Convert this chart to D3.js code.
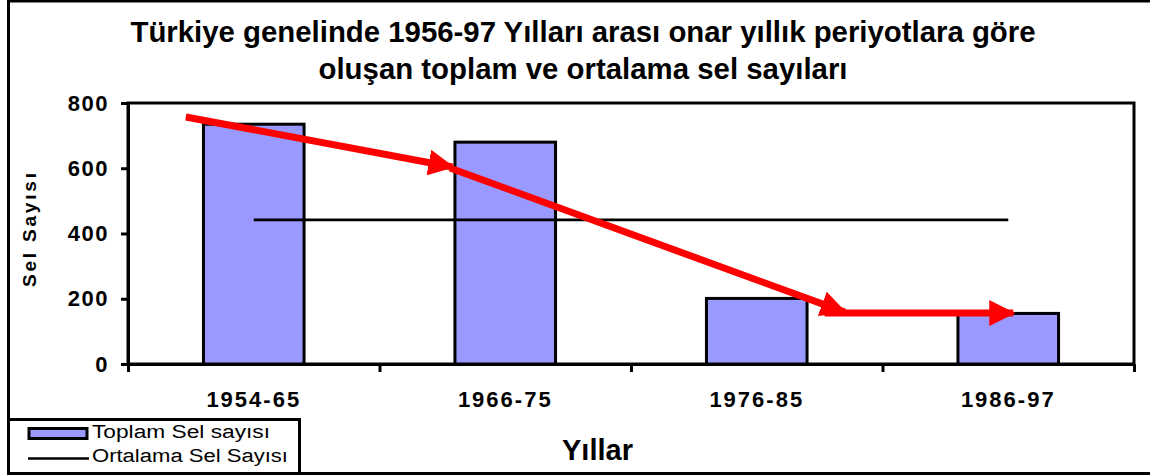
<!DOCTYPE html>
<html>
<head>
<meta charset="utf-8">
<script src="https://cdn.jsdelivr.net/npm/d3@7"></script>
<style>
  body { margin: 0; background: #fff; }
  svg { display: block; font-family: "Liberation Sans", Arial, sans-serif; }
</style>
</head>
<body>
<div id="chart"></div>
<script>
// data
const categories = ["1954-65", "1966-75", "1976-85", "1986-97"]
const toplamSel = [735, 680, 201, 155]
const ortalamaSel = [442, 442, 442, 442]
const yTicks = [0, 200, 400, 600, 800]
// red trend arrows: [category position, value]
const arrowFrom = [[0.23, 757], [1.28, 601], [2.77, 156]]
const arrowTo = [[1.29, 604], [2.85, 159], [3.52, 156]]
const legendLabels = ["Toplam Sel sayısı", "Ortalama Sel Sayısı"]
const titleLines = ["Türkiye genelinde 1956-97 Yılları arası onar yıllık periyotlara göre",
  "oluşan toplam ve ortalama sel sayıları"]

const W = 1150, H = 475
const margins = { top: 103, right: 16, bottom: 111, left: 128 }
const anc = W - margins.left - margins.right
const alt = H - margins.top - margins.bottom

const svg = d3.select("#chart").append("svg")
  .attr("width", W)
  .attr("height", H)

svg.append("defs").append("marker")
  .attr("id", "head")
  .attr("markerUnits", "userSpaceOnUse")
  .attr("viewBox", "0 0 26 26")
  .attr("refX", 24).attr("refY", 13)
  .attr("markerWidth", 26).attr("markerHeight", 26)
  .attr("orient", "auto")
  .append("path")
  .attr("d", "M0,0 L26,13 L0,26 Z")
  .attr("fill", "#ff0000")

// outer frame
svg.append("rect")
  .attr("x", 8.5).attr("y", 1)
  .attr("width", W + 20).attr("height", 472.5)
  .attr("fill", "none").attr("stroke", "#000").attr("stroke-width", 3)

const g = svg.append("g")
  .attr("transform", "translate(" + margins.left + "," + margins.top + ")")

const x = d3.scaleBand()
  .domain(categories)
  .range([0, anc])
  .paddingInner(0.6)
  .paddingOuter(0.3)

const xPos = d3.scaleLinear().domain([0, categories.length]).range([0, anc])

const y = d3.scaleLinear().domain([0, 800]).range([alt, 0])

// plot area border
g.append("rect")
  .attr("width", anc).attr("height", alt)
  .attr("fill", "none").attr("stroke", "#000").attr("stroke-width", 3)

// bars
g.selectAll(".bar")
  .data(toplamSel)
  .enter().append("rect")
  .attr("x", (d, i) => x(categories[i]))
  .attr("y", d => y(d))
  .attr("width", x.bandwidth())
  .attr("height", d => alt - y(d))
  .attr("fill", "#9999ff")
  .attr("stroke", "#000")
  .attr("stroke-width", 3)

// average line
g.append("path")
  .datum(ortalamaSel)
  .attr("fill", "none")
  .attr("stroke", "#000")
  .attr("stroke-width", 2.7)
  .attr("d", d3.line()
    .x((d, i) => x(categories[i]) + x.bandwidth() / 2)
    .y(d => y(d)))

// y axis
const yAxis = g.append("g")
  .call(d3.axisLeft(y).tickValues(yTicks).tickSizeInner(7).tickSizeOuter(0).tickPadding(12))
yAxis.select(".domain").attr("stroke-width", 3)
yAxis.selectAll(".tick line").attr("stroke-width", 3)
yAxis.selectAll("text")
  .attr("font-size", 22).attr("font-weight", "bold")
  .attr("letter-spacing", "1.5px")
  .attr("font-family", "'Liberation Sans', Arial, sans-serif")

// x axis: ticks on category boundaries, labels in the middle
const xTicks = g.append("g")
  .attr("transform", "translate(0," + alt + ")")
  .call(d3.axisBottom(xPos).tickValues(d3.range(categories.length + 1)).tickFormat("").tickSizeInner(8).tickSizeOuter(0))
xTicks.select(".domain").attr("stroke-width", 3)
xTicks.selectAll(".tick line").attr("stroke-width", 3)

const xLabels = g.append("g")
  .attr("transform", "translate(0," + alt + ")")
  .call(d3.axisBottom(x).tickSize(0).tickPadding(27))
xLabels.select(".domain").remove()
xLabels.selectAll("text")
  .attr("font-size", 22).attr("font-weight", "bold")
  .attr("letter-spacing", "2px")
  .attr("font-family", "'Liberation Sans', Arial, sans-serif")

// red trend arrows
g.selectAll(".arrow")
  .data(arrowFrom)
  .enter().append("line")
  .attr("x1", d => xPos(d[0])).attr("y1", d => y(d[1]))
  .attr("x2", (d, i) => xPos(arrowTo[i][0])).attr("y2", (d, i) => y(arrowTo[i][1]))
  .attr("stroke", "#ff0000")
  .attr("stroke-width", 7)
  .attr("marker-end", "url(#head)")

// title
svg.selectAll(".titulo")
  .data(titleLines)
  .enter().append("text")
  .attr("x", 583)
  .attr("y", (d, i) => 42 + i * 37)
  .attr("text-anchor", "middle")
  .attr("font-size", 29).attr("font-weight", "bold")
  .attr("textLength", (d, i) => i === 0 ? 905 : 529)
  .attr("lengthAdjust", "spacingAndGlyphs")
  .text(d => d)

// axis titles
svg.append("text")
  .attr("transform", "translate(36,230) rotate(-90)")
  .attr("text-anchor", "middle")
  .attr("font-size", 19).attr("font-weight", "bold")
  .attr("textLength", 114)
  .attr("lengthAdjust", "spacing")
  .text("Sel Sayısı")

svg.append("text")
  .attr("x", 562).attr("y", 460)
  .attr("font-size", 29).attr("font-weight", "bold")
  .text("Yıllar")

// legend
svg.append("rect")
  .attr("x", 8.5).attr("y", 419.5)
  .attr("width", 291).attr("height", 54)
  .attr("fill", "none").attr("stroke", "#000").attr("stroke-width", 3)

svg.append("rect")
  .attr("x", 29).attr("y", 428.5)
  .attr("width", 58).attr("height", 10)
  .attr("fill", "#9999ff").attr("stroke", "#000").attr("stroke-width", 3)

svg.append("line")
  .attr("x1", 28).attr("x2", 89)
  .attr("y1", 458.5).attr("y2", 458.5)
  .attr("stroke", "#000").attr("stroke-width", 2.7)

svg.selectAll(".leg")
  .data(legendLabels)
  .enter().append("text")
  .attr("x", 92)
  .attr("y", (d, i) => 438 + i * 24)
  .attr("font-size", 18)
  .attr("textLength", (d, i) => i === 0 ? 178 : 196)
  .attr("lengthAdjust", "spacingAndGlyphs")
  .text(d => d)
</script>
</body>
</html>
